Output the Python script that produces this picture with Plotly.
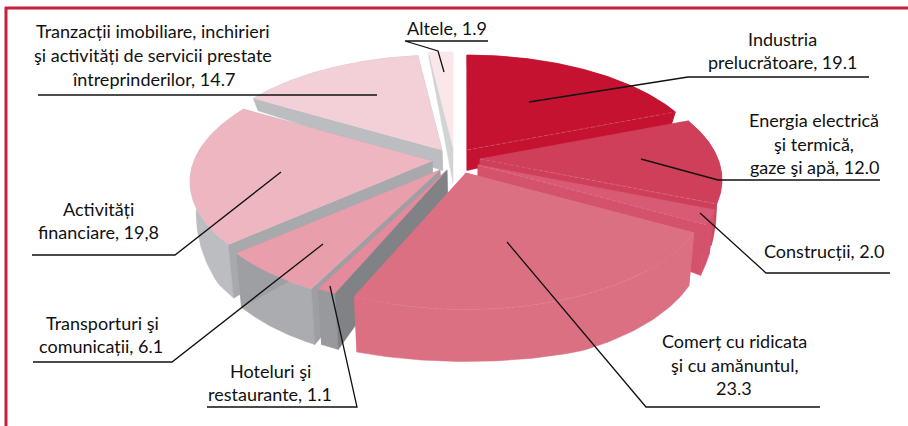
import numpy as np
import plotly.graph_objects as go

# ---- data ----
sectors = ["Industria prelucrătoare", "Energia electrică, gaze şi apă", "Construcții",
           "Comerț cu ridicata şi cu amănuntul", "Hoteluri şi restaurante",
           "Transporturi şi comunicații", "Activități financiare",
           "Tranzacții imobiliare", "Altele"]
values = [19.1, 12.0, 2.0, 23.3, 1.1, 6.1, 19.8, 14.7, 1.9]

# ---- style: colours per slice ----
top_colors = ["#C41230", "#CF3F5A", "#D95A74", "#DC7083", "#E48A9A",
              "#E89FAB", "#EEB6C1", "#F3D0D7", "#FBE6EA"]
side_colors = ["#C41230", "#CF3F5A", "#D4526C", "#DC7083", "#98999D",
               "#ABACB0", "#BCBDC1", "#BCBDC1", "#FBE6EA"]
start_wall = ["#C41230", "#CF3F5A", "#D4526C", "#DC7083", "#808285",
              "#9D9FA3", "#A7A9AC", "#BCBDC1", "#D2D3D5"]
end_wall = ["#C41230", "#CF3F5A", "#D4526C", "#DC7083", "#98999D",
            "#9D9FA3", "#A7A9AC", "#BCBDC1", "#D2D3D5"]

# ---- layout: exploded slice apex, perspective, extrusion ----
apex_x = [467, 480, 478, 466, 447, 440, 432, 442, 453]
apex_y = [150, 159, 165, 173, 170, 170, 161, 150, 147]
R, RQ, K = 238.0, 112.0, 0.18
DRAW_ORDER = [0, 1, 2, 8, 7, 6, 5, 4, 3]
VANISH_X, SHRINK = 470.0, 0.022


def project(i, theta):
    w = 1 + K * np.cos(theta)
    return apex_x[i] + R * np.sin(theta) / w, apex_y[i] - RQ * np.cos(theta) / w


def drop(x, y):
    d = np.interp(y, [95, 160, 230, 295, 320], [12, 22, 53, 56, 49])
    return x + (VANISH_X - x) * SHRINK, y + d


fracs = np.cumsum([0] + values) / sum(values) * 2 * np.pi
fig = go.Figure()


def poly(xs, ys, color):
    fig.add_trace(go.Scatter(x=np.r_[xs, xs[0]], y=np.r_[ys, ys[0]], mode="lines",
                             fill="toself", fillcolor=color,
                             line=dict(color=color, width=0.5),
                             hoverinfo="skip", showlegend=False))


def edge(xs, ys, alpha=0.5):
    fig.add_trace(go.Scatter(x=xs, y=ys, mode="lines",
                             line=dict(color=f"rgba(225,170,180,{alpha})", width=0.6, dash="4px,2px"),
                             hoverinfo="skip", showlegend=False))


def wall(i, theta, color, d_apex=None, d_outer=None):
    ox, oy = project(i, theta)
    ax, ay = apex_x[i], apex_y[i]
    bax, bay = drop(ax, ay)
    box, boy = drop(ox, oy)
    if d_apex is not None:
        bax, bay = ax, ay + d_apex
    if d_outer is not None:
        box, boy = ox, oy + d_outer
    poly(np.array([ax, ox, box, bax]), np.array([ay, oy, boy, bay]), color)


for i in DRAW_ORDER:
    t0, t1 = fracs[i], fracs[i + 1]
    th = np.linspace(t0, t1, 80)
    px, py = project(i, th)
    bx, by = drop(px, py)
    poly(np.r_[px, bx[::-1]], np.r_[py, by[::-1]], side_colors[i])
    if i == 8:
        wall(i, t0, start_wall[i], 36, 4)
    elif t0 >= np.pi:
        # left half of the pie: the clockwise-leading cut face is the visible one
        wall(i, t1, end_wall[i])
        wall(i, t0, start_wall[i])
    else:
        wall(i, t0, start_wall[i])
        wall(i, t1, end_wall[i])
    poly(np.r_[apex_x[i], px], np.r_[apex_y[i], py], top_colors[i])
    if i in (0, 1, 2):
        ex, ey = project(i, t1)
        edge([apex_x[i], ex], [apex_y[i], ey])
    if i == 3:
        edge(px, py, 0.35)

# ---- leader lines ----
leaders = [
    ([869, 688, 529], [77, 77, 102]),
    ([880, 718, 641], [180, 180, 159]),
    ([890, 766, 700], [273, 273, 213]),
    ([820, 646, 507], [407, 407, 242]),
    ([207, 357, 330], [407, 407, 286]),
    ([33, 172, 323], [362, 362, 244]),
    ([32, 175, 281], [255, 255, 172]),
    ([38, 377], [95, 95]),
    ([488, 405, 438, 444], [41, 41, 51, 72]),
]
for lx, ly in leaders:
    fig.add_trace(go.Scatter(x=lx, y=ly, mode="lines", line=dict(color="#111111", width=1.3),
                             hoverinfo="skip", showlegend=False))

# ---- labels ----
labels = [
    ("Industria", 782, 39), ("prelucrătoare, 19.1", 782, 62),
    ("Energia electrică", 814, 120), ("şi termică,", 814, 144), ("gaze şi apă, 12.0", 814, 167),
    ("Construcții, 2.0", 824, 251),
    ("Comerț cu ridicata", 734, 341), ("şi cu amănuntul,", 734, 365), ("23.3", 734, 388),
    ("Hoteluri şi", 270, 371), ("restaurante, 1.1", 270, 394),
    ("Transporturi şi", 102, 323), ("comunicații, 6.1", 101, 346),
    ("Activități", 98, 209), ("financiare, 19,8", 98, 232),
    ("Tranzacții imobiliare, inchirieri", 153, 31), ("şi activități de servicii prestate", 153, 55),
    ("întreprinderilor, 14.7", 153, 79),
    ("Altele, 1.9", 447, 28),
]
annotations = [dict(x=x, y=y, text=t, showarrow=False, xanchor="center", yanchor="middle",
                    font=dict(family="Lato", size=18, color="#111111")) for t, x, y in labels]

BORDER = "#C8203A"
shapes = [
    dict(type="line", xref="x", yref="y", x0=5, x1=908, y0=8, y1=8, line=dict(color=BORDER, width=3)),
    dict(type="line", xref="x", yref="y", x0=6, x1=6, y0=7, y1=426, line=dict(color=BORDER, width=3)),
]

fig.update_layout(
    width=908, height=426, margin=dict(l=0, r=0, t=0, b=0),
    paper_bgcolor="white", plot_bgcolor="white", showlegend=False,
    xaxis=dict(range=[0, 908], visible=False, fixedrange=True),
    yaxis=dict(range=[426, 0], visible=False, fixedrange=True),
    annotations=annotations, shapes=shapes,
)
fig.write_html("out.html", config={"displayModeBar": False},
               post_script="document.body.style.margin='0';document.body.style.overflow='hidden';")
